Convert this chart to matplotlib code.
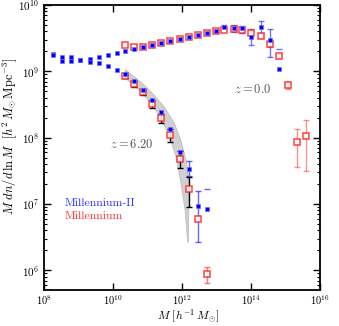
import numpy as np
import matplotlib
matplotlib.use("Agg")
import matplotlib.pyplot as plt

plt.rcParams['font.family'] = 'serif'
plt.rcParams['font.serif'] = ['cmr10', 'DejaVu Serif']
plt.rcParams['mathtext.fontset'] = 'cm'
plt.rcParams['axes.formatter.use_mathtext'] = True

# all values are log10 of the quantity
# Millennium-II (blue), z = 0
mii_z0_m = [8.27, 8.53, 8.79, 9.05, 9.32, 9.58, 9.84, 10.10, 10.36, 10.62, 10.88, 11.14, 11.40,
            11.66, 11.93, 12.19, 12.45, 12.71, 12.97, 13.23, 13.50, 13.75, 14.01, 14.28, 14.54, 14.81]
mii_z0_y = [9.26, 9.21, 9.21, 9.17, 9.19, 9.22, 9.25, 9.27, 9.30, 9.34, 9.37, 9.39, 9.42,
            9.45, 9.48, 9.515, 9.54, 9.575, 9.60, 9.67, 9.647, 9.647, 9.51, 9.662, 9.47, 9.04]
mii_z0_lo = [None] * 19 + [9.65, 9.59, 9.571, 9.394, 9.57, 9.21, -1]
mii_z0_hi = [None] * 19 + [9.69, 9.70, 9.686, 9.636, 9.76, 9.636, 9.34]

# Millennium-II (blue), z = 6.2
mii_z6_m = [8.27, 8.53, 8.79, 9.05, 9.32, 9.58, 9.84, 10.10, 10.36, 10.61, 10.87, 11.13, 11.40,
            11.66, 11.93, 12.19, 12.45, 12.72]
mii_z6_y = [9.25, 9.16, 9.16, 9.165, 9.14, 9.126, 9.08, 9.026, 8.955, 8.853, 8.72, 8.57, 8.39,
            8.13, 7.78, 7.53, 6.97, 6.93]
mii_z6_lo = [None] * 15 + [7.42, 6.42, -1]
mii_z6_hi = [None] * 15 + [7.64, 7.20, 7.23]

# Millennium (red), z = 0
mil_z0_m = [10.36, 10.62, 10.88, 11.14, 11.40, 11.66, 11.93, 12.19, 12.45, 12.71, 12.97, 13.23,
            13.50, 13.75, 14.01, 14.28, 14.54, 14.81, 15.07, 15.32, 15.58]
mil_z0_y = [9.39, 9.36, 9.37, 9.39, 9.42, 9.45, 9.48, 9.515, 9.54, 9.575, 9.605, 9.62,
            9.632, 9.626, 9.576, 9.53, 9.405, 9.232, 8.79, 7.94, 8.03]
mil_z0_lo = [None] * 13 + [9.61, 9.55, 9.50, 9.37, 9.20, 8.73, 7.56, 7.49]
mil_z0_hi = [None] * 13 + [9.64, 9.60, 9.56, 9.44, 9.26, 8.84, 8.13, 8.26]

# Millennium (red), z = 6.2
mil_z6_m = [10.36, 10.61, 10.87, 11.13, 11.40, 11.66, 11.93, 12.19, 12.45, 12.72]
mil_z6_y = [8.924, 8.81, 8.68, 8.51, 8.30, 8.04, 7.68, 7.23, 6.77, 5.94]
mil_z6_lo = [8.90, 8.762, 8.636, 8.444, 8.22, 7.94, 7.54, 6.96, None, 5.81]
mil_z6_hi = [8.95, 8.853, 8.72, 8.56, 8.36, 8.13, 7.80, 7.40, None, 6.05]

# grey band around z = 6.2
band_up_m = [10.36, 10.62, 10.91, 11.20, 11.49, 11.78, 11.97, 12.12, 12.21, 12.18]
band_up_y = [9.026, 8.914, 8.788, 8.636, 8.459, 8.212, 7.955, 7.652, 7.30, 6.41]
band_lo_m = [10.31, 10.57, 10.86, 11.15, 11.39, 11.63, 11.83, 11.97, 12.09, 12.16]
band_lo_y = [8.914, 8.803, 8.662, 8.485, 8.283, 8.03, 7.70, 7.30, 6.894, 6.44]


def errs(y, lo, hi):
    out_lo, out_hi, keep = [], [], []
    for i in range(len(y)):
        if lo[i] is None:
            continue
        yy = 10 ** y[i]
        low = yy * 2 if lo[i] < 0 else yy - 10 ** lo[i]
        out_lo.append(low)
        out_hi.append(10 ** hi[i] - yy)
        keep.append(i)
    return keep, [out_lo, out_hi]


fig = plt.figure(figsize=(3.39, 3.26), dpi=100)
ax = fig.add_axes([0.130, 0.110, 0.814, 0.875])
ax.set_xscale('log')
ax.set_yscale('log', nonpositive='mask')

bx = np.concatenate([band_up_m, band_lo_m[::-1]])
by = np.concatenate([band_up_y, band_lo_y[::-1]])
ax.fill(10 ** bx, 10 ** by, color='#c8c8c8', alpha=0.85, lw=0.5, ec='#b0b0b0', zorder=1)

red = '#ff2020'
blue = '#0000ff'

# error bars
for m, y, lo, hi, c, a in [(mil_z0_m, mil_z0_y, mil_z0_lo, mil_z0_hi, red, 0.5),
                           (mii_z0_m, mii_z0_y, mii_z0_lo, mii_z0_hi, blue, 0.55),
                           (mii_z6_m, mii_z6_y, mii_z6_lo, mii_z6_hi, blue, 0.6)]:
    k, e = errs(y, lo, hi)
    ax.errorbar(10 ** np.array(m)[k], 10 ** np.array(y)[k], yerr=e, fmt='none',
                ecolor=c, alpha=a, elinewidth=1.0, capsize=2.5, capthick=1.0, zorder=2)

k, e = errs(mil_z6_y, mil_z6_lo, mil_z6_hi)
kb = [i for i in k if i < 8]
ka = [i for i in k if i >= 8]
e = np.array(e)
ax.errorbar(10 ** np.array(mil_z6_m)[kb], 10 ** np.array(mil_z6_y)[kb], yerr=e[:, :len(kb)],
            fmt='none', ecolor='black', elinewidth=1.0, capsize=2.5, capthick=1.0, zorder=2)
ax.errorbar(10 ** np.array(mil_z6_m)[ka], 10 ** np.array(mil_z6_y)[ka], yerr=e[:, len(kb):],
            fmt='none', ecolor=red, alpha=0.6, elinewidth=1.0, capsize=2.5, capthick=1.0, zorder=2)

# markers
for m, y in [(mil_z0_m, mil_z0_y), (mil_z6_m, mil_z6_y)]:
    ax.plot(10 ** np.array(m), 10 ** np.array(y), 's', ms=4.2, mfc='white', mec=red,
            mew=1.1, alpha=0.85, zorder=3)
for m, y in [(mii_z0_m, mii_z0_y), (mii_z6_m, mii_z6_y)]:
    ax.plot(10 ** np.array(m), 10 ** np.array(y), 's', ms=3.4, mfc=blue, mec='#7070ff',
            mew=0.5, zorder=4)

ax.set_xlim(1e8, 1e16)
ax.set_ylim(10 ** 5.7, 1e10)

ax.text(0.69, 0.69, r'$z = 0.0$', transform=ax.transAxes, fontsize=9, color='#555555')
ax.text(0.24, 0.50, r'$z = 6.20$', transform=ax.transAxes, fontsize=9, color='#555555')
ax.text(0.075, 0.295, 'Millennium-II', transform=ax.transAxes, fontsize=8.5, color='#3030ff')
ax.text(0.075, 0.248, 'Millennium', transform=ax.transAxes, fontsize=8.5, color='#ff3030')

ax.set_xlabel(r'$M\ [h^{-1}\,M_{\odot}]$', fontsize=8.5)
ax.set_ylabel(r'$M\ dn/d\,\ln M\ \ [h^{2}\,M_{\odot}\,{\rm Mpc}^{-3}]$', fontsize=9)
ax.yaxis.set_label_coords(-0.09, 0.54)
ax.xaxis.set_label_coords(0.52, -0.06)

ax.tick_params(which='both', direction='in', top=True, right=True, labelsize=8, colors='black')
ax.tick_params(axis='x', pad=2, labelsize=7.5)
ax.tick_params(which='major', length=5, width=1.0)
ax.tick_params(which='minor', length=2.5, width=0.8)
for s in ax.spines.values():
    s.set_linewidth(1.3)

fig.savefig('out.png', dpi=100)
